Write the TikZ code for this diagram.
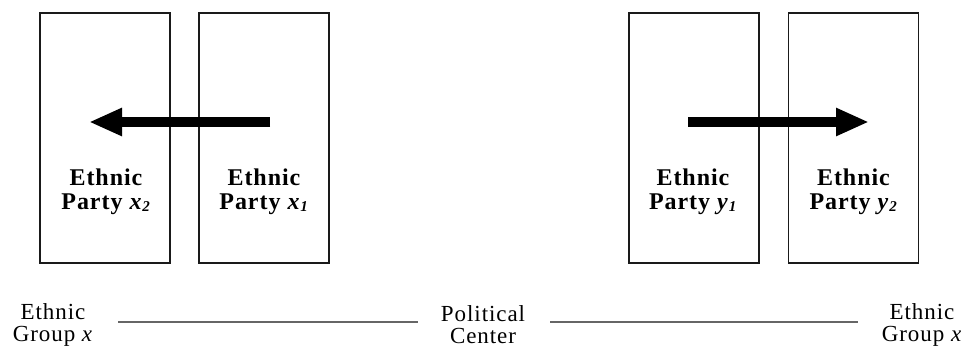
\documentclass[tikz,border=0pt]{standalone}
\usepackage{fontspec}
\setmainfont{Liberation Serif}
\newfontfamily\spaced[LetterSpace=4]{Liberation Serif}
\usetikzlibrary{positioning,arrows.meta}
\definecolor{ink900}  {HTML}{1A1A1A}
\definecolor{grey600} {HTML}{666666}
\newcommand{\pvar}[2]{\textit{#1}\raisebox{-0.2ex}{\fontsize{15}{15}\selectfont\textit{#2}}}
\tikzset{
  party/.style   ={draw=ink900, line width=1.2pt, minimum width=130pt,
                   minimum height=250pt, inner sep=0pt},
  plab/.style    ={font=\spaced\bfseries\fontsize{24}{24}\selectfont,
                   align=center, inner sep=0pt},
  glab/.style    ={font=\spaced\fontsize{23}{22}\selectfont,
                   align=center, inner sep=0pt},
  spectrum/.style={draw=grey600, line width=2pt},
  move/.style    ={-{Triangle[length=33pt,width=26pt]}, line width=10pt,
                   draw=black}
}

\begin{document}
\begin{tikzpicture}[x=1pt,y=-1pt]
\useasboundingbox (0,0) rectangle (969,351);
% party boxes
\node[party] (x2) at (105,138) {};
\node[party] (x1) at (264,138) {};
\node[party] (y1) at (694,138) {};
\node[party] (y2) at (853.5,138) {};
\node[plab] (lx2) at (106,192) {Ethnic\\Party \pvar{x}{2}};
\node[plab] (lx1) at (264,192) {Ethnic\\Party \pvar{x}{1}};
\node[plab] (ly1) at (693,192) {Ethnic\\Party \pvar{y}{1}};
\node[plab] (ly2) at (853.5,192) {Ethnic\\Party \pvar{y}{2}};
% moves away from the center
\coordinate (sx) at (270,122);
\coordinate (ex) at (89,122);
\coordinate (sy) at (688,122);
\coordinate (ey) at (869,122);
\draw[move] (sx) -- (ex);
\draw[move] (sy) -- (ey);
% the scale below
\node[glab, minimum width=90pt]  (gx) at (53,325) {Ethnic\\Group \textit{x}};
\node[glab, minimum width=100pt] (pc) at (483,325) {Political\\Center};
\node[glab, minimum width=90pt]  (gy) at (922,325) {Ethnic\\Group \textit{x}};
\draw[spectrum] ([xshift=20pt,yshift=3pt]gx.east)
  -- ([xshift=-15pt,yshift=3pt]pc.west);
\draw[spectrum] ([xshift=17pt,yshift=3pt]pc.east)
  -- ([xshift=-19pt,yshift=3pt]gy.west);
\end{tikzpicture}
\end{document}
